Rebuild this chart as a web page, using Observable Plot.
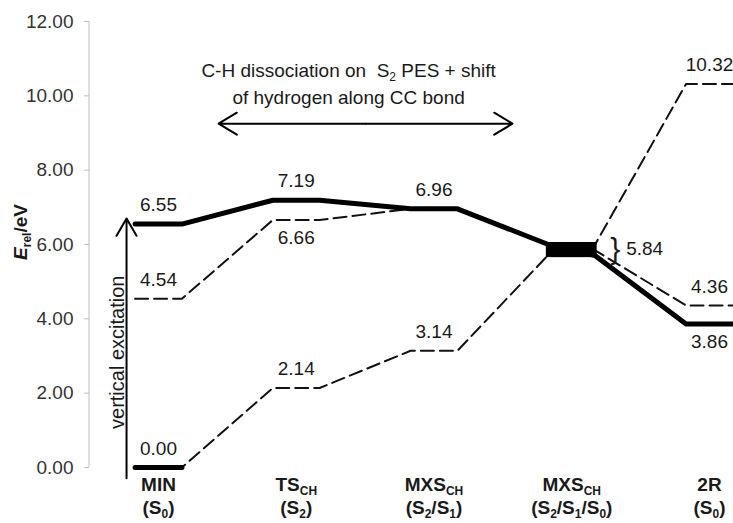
<!DOCTYPE html>
<html>
<head>
<meta charset="utf-8">
<script src="https://cdn.jsdelivr.net/npm/d3@7"></script>
<script src="https://cdn.jsdelivr.net/npm/@observablehq/plot@0.6"></script>
<style>
  html, body { margin: 0; padding: 0; background: #fff; }
  #chart text { white-space: pre; }
</style>
</head>
<body>
<div id="chart"></div>
<script>
// ---- data ----
const stages = [0, 1, 2, 3, 4];
const stageNames = ["MIN", "TS_{CH}", "MXS_{CH}", "MXS_{CH}", "2R"];
const stageStates = ["(S_{0})", "(S_{2})", "(S_{2}/S_{1})", "(S_{2}/S_{1}/S_{0})", "(S_{0})"];

// three energy curves (eV) at each stage
const energyS2 = [6.55, 7.19, 6.96, 5.84, 3.86];   // thick solid curve
const energyS1 = [4.54, 6.66, 6.96, 5.84, 4.36];   // dashed
const energyS0 = [0.00, 2.14, 3.14, 5.84, 10.32];  // dashed

// where each curve enters / leaves the crossing block at MXS (S2/S1/S0)
const crossStage = 3;
const crossEntry = [6.00, 6.00, 5.72];  // S2, S1, S0
const crossExit  = [5.70, 5.84, 6.00];

// levels of the dashed S0 curve drawn as thick bars
const thickS0 = [true, false, false, false, false];

const yTicks = [0, 2, 4, 6, 8, 10, 12];

// value labels: [curve, stage, side]
const valueLabels = [
  ["S2", 0, "above"], ["S2", 1, "above"], ["S2", 2, "above"], ["S2", 4, "below"],
  ["S1", 0, "above"], ["S1", 1, "below"], ["S1", 4, "above"],
  ["S0", 0, "above"], ["S0", 1, "above"], ["S0", 2, "above"], ["S0", 4, "above"]
];
const crossLabel = "5.84";

const annotationLines = ["C-H dissociation on  S_{2} PES + shift", "of hydrogen along CC bond"];
const verticalLabel = "vertical excitation";

// ---- build ----
const h = 0.17; // half width of a level bar, in stage units
const curves = {S2: energyS2, S1: energyS1, S0: energyS0};
const curveIdx = {S2: 0, S1: 1, S0: 2};

function curvePoints(key) {
  const vals = curves[key], k = curveIdx[key];
  const pts = [];
  vals.forEach((v, i) => {
    const vin = i === crossStage ? crossEntry[k] : v;
    const vout = i === crossStage ? crossExit[k] : v;
    pts.push({x: i - h, y: vin, k: key}, {x: i + h, y: vout, k: key});
  });
  return pts;
}
const dashedPts = [...curvePoints("S1"), ...curvePoints("S0")];
const solidPts = curvePoints("S2");
const thickBars = energyS0.map((v, i) => ({x1: i - h, x2: i + h, y: v})).filter((d, i) => thickS0[i]);
const allCross = [...crossEntry, ...crossExit];
const crossBlock = [{x1: crossStage - h, x2: crossStage + h, y1: d3.min(allCross), y2: d3.max(allCross)}];

const labels = valueLabels.map(([c, s, side]) => ({
  x: s, y: curves[c][s], text: d3.format(".2f")(curves[c][s]), side
}));

const catData = stages.map(i => ({x: i, name: stageNames[i], state: stageStates[i]}));

// annotation geometry (data units)
const arrowSpan = [{x1: 1.503, x2: 0.436, y: 9.25}, {x1: 1.503, x2: 2.57, y: 9.25}];
const vArrow = [{x: -0.232, y1: -0.29, y2: 6.70}];
const annText = [{x: 1.38, y: 10.67, text: annotationLines[0]}, {x: 1.38, y: 9.95, text: annotationLines[1]}];
const vText = [{x: -0.30, y: 3.10, text: verticalLabel}];

const font = "Liberation Sans, Arial, Helvetica, sans-serif";
const ink = "#1a1a1a";
const fmt = d3.format(".2f");

const chart = Plot.plot({
  width: 733,
  height: 523,
  marginTop: 21,
  marginBottom: 56,
  marginLeft: 89,
  marginRight: 0,
  style: {fontFamily: font, fontSize: "19px", color: ink, background: "#fff", overflow: "visible"},
  x: {domain: [0, 4], range: [158, 709], axis: null},
  y: {domain: [0, 12], range: [467, 21]},
  marks: [
    Plot.axisY({ticks: yTicks, tickFormat: () => "", tickSize: 5, stroke: "#bdbdbd", label: null}),
    Plot.text(yTicks, {y: d => d, text: d => fmt(d), frameAnchor: "left", dx: -16, textAnchor: "end", fontSize: 19, fill: "#333"}),
    Plot.line(dashedPts, {x: "x", y: "y", z: "k", stroke: "#111", strokeWidth: 2, strokeDasharray: "13,6"}),
    Plot.line(solidPts, {x: "x", y: "y", stroke: "#000", strokeWidth: 5, strokeLinecap: "round", strokeLinejoin: "round"}),
    Plot.link(thickBars, {x1: "x1", x2: "x2", y1: "y", y2: "y", stroke: "#000", strokeWidth: 5, strokeLinecap: "round"}),
    Plot.rect(crossBlock, {x1: "x1", x2: "x2", y1: "y1", y2: "y2", fill: "#000", stroke: "#000", strokeWidth: 4}),
    // value labels
    Plot.text(labels.filter(d => d.side === "above"), {x: "x", y: "y", text: "text", dy: -19, fontSize: 19, fill: ink}),
    Plot.text(labels.filter(d => d.side === "below"), {x: "x", y: "y", text: "text", dy: 18, fontSize: 19, fill: ink}),
    Plot.text([{x: crossStage + h, y: energyS2[crossStage]}], {x: "x", y: "y", text: () => "}", dx: 20, dy: -1, fontSize: 30, fill: ink}),
    Plot.text([{x: crossStage + h, y: energyS2[crossStage]}], {x: "x", y: "y", text: () => crossLabel, dx: 31, dy: -2, textAnchor: "start", fontSize: 19, fill: ink}),
    // category labels
    Plot.text(catData, {x: "x", frameAnchor: "bottom", lineAnchor: "middle", text: "name", dy: 17, fontSize: 19, fontWeight: "bold", fill: ink}),
    Plot.text(catData, {x: "x", frameAnchor: "bottom", lineAnchor: "middle", text: "state", dy: 40, fontSize: 19, fontWeight: "bold", fill: ink}),
    // annotations
    Plot.arrow(arrowSpan, {x1: "x1", x2: "x2", y1: "y", y2: "y", stroke: "#000", strokeWidth: 2, headLength: 16, headAngle: 62}),
    Plot.arrow(vArrow, {x1: "x", x2: "x", y1: "y1", y2: "y2", stroke: "#000", strokeWidth: 2, headLength: 15, headAngle: 60}),
    Plot.text(annText, {x: "x", y: "y", text: "text", fontSize: 19, fill: ink}),
    Plot.text(vText, {x: "x", y: "y", text: "text", rotate: -90, fontSize: 20, fill: ink})
  ]
});

// subscript handling: "_{...}" -> lowered small tspan
const NS = "http://www.w3.org/2000/svg";
function applySubs(root) {
  root.querySelectorAll("text").forEach(t => {
    const s = t.textContent;
    if (!s.includes("_{")) return;
    while (t.firstChild) t.removeChild(t.firstChild);
    const parts = s.split(/(_\{[^}]*\})/);
    let shifted = false;
    for (const p of parts) {
      if (!p) continue;
      const ts = document.createElementNS(NS, "tspan");
      if (p.startsWith("_{")) {
        ts.textContent = p.slice(2, -1);
        ts.setAttribute("font-size", "63%");
        ts.setAttribute("dy", shifted ? "0" : "4");
        shifted = true;
      } else {
        ts.textContent = p;
        if (shifted) { ts.setAttribute("dy", "-4"); shifted = false; }
      }
      t.appendChild(ts);
    }
  });
}
applySubs(chart);

// y axis line
const yScale = chart.scale("y");
const axisLine = document.createElementNS(NS, "line");
axisLine.setAttribute("x1", 89); axisLine.setAttribute("x2", 89);
axisLine.setAttribute("y1", yScale.apply(12)); axisLine.setAttribute("y2", yScale.apply(0));
axisLine.setAttribute("stroke", "#bdbdbd"); axisLine.setAttribute("stroke-width", "1");
chart.insertBefore(axisLine, chart.firstChild.nextSibling);

// y-axis title: E_rel/eV (bold, E italic)
const title = document.createElementNS(NS, "text");
title.setAttribute("transform", "translate(27,232) rotate(-90)");
title.setAttribute("text-anchor", "middle");
title.setAttribute("font-weight", "bold");
title.setAttribute("font-size", "19");
title.setAttribute("fill", ink);
const tE = document.createElementNS(NS, "tspan"); tE.textContent = "E"; tE.setAttribute("font-style", "italic");
const tR = document.createElementNS(NS, "tspan"); tR.textContent = "rel"; tR.setAttribute("font-size", "12"); tR.setAttribute("dy", "4");
const tV = document.createElementNS(NS, "tspan"); tV.textContent = "/eV"; tV.setAttribute("dy", "-4");
title.append(tE, tR, tV);
chart.appendChild(title);

document.getElementById("chart").appendChild(chart);
</script>
</body>
</html>
